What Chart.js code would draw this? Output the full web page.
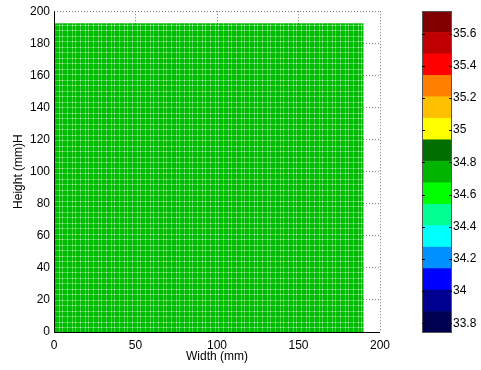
<!DOCTYPE html>
<html>
<head>
<meta charset="utf-8">
<script src="https://cdn.jsdelivr.net/npm/chart.js@4/dist/chart.umd.min.js"></script>
<style>
  html, body { margin: 0; padding: 0; background: #fff; }
  #wrap { position: relative; width: 481px; height: 370px; }
  canvas { position: absolute; left: 0; top: 0; }
</style>
</head>
<body>
<div id="wrap">
  <canvas id="main" width="481" height="370"></canvas>
  <canvas id="cbar" width="481" height="370"></canvas>
</div>
<script>
// ---- data ----
const xTicks = [0, 50, 100, 150, 200];
const yTicks = [0, 20, 40, 60, 80, 100, 120, 140, 160, 180, 200];
const fieldWidth = 190;      // mm, extent of the filled field
const fieldHeight = 192.5;   // mm
const fieldX = [0, fieldWidth];
const fieldY = [fieldHeight, fieldHeight];

const levelEdges = [33.74, 33.873, 34.007, 34.14, 34.273, 34.407, 34.54, 34.673, 34.807, 34.94, 35.073, 35.207, 35.34, 35.473, 35.607, 35.74];
const levelColors = ['#000050', '#000090', '#0000FF', '#0090FF', '#00FFFF', '#00FF90', '#00FF00', '#00B400', '#006E00', '#FFFF00', '#FFC000', '#FF8000', '#FF0000', '#C00000', '#800000'];
const cbarTicks = [33.8, 34.0, 34.2, 34.4, 34.6, 34.8, 35.0, 35.2, 35.4, 35.6];

const FONT = { family: "'Liberation Sans', Arial, sans-serif", size: 12 };

// mesh-like fill pattern
function meshPattern() {
  const w = 13, h = 11;
  const c = document.createElement('canvas');
  c.width = w; c.height = h;
  const g = c.getContext('2d');
  g.fillStyle = 'rgb(0,188,0)';
  g.fillRect(0, 0, w, h);
  const vx = [2, 7, 10], hy = [3, 8];
  g.fillStyle = 'rgb(70,208,70)';
  vx.forEach(x => g.fillRect(x, 0, 1, h));
  hy.forEach(y => g.fillRect(0, y, w, 1));
  g.fillStyle = 'rgb(200,240,200)';
  vx.forEach(x => hy.forEach(y => g.fillRect(x, y, 1, 1)));
  return g.createPattern(c, 'repeat');
}

const gridStyle = { color: '#7a7a7a', lineWidth: 1, drawTicks: false };

new Chart(document.getElementById('main'), {
  type: 'line',
  data: {
    datasets: [{
      data: fieldX.map((x, i) => ({ x: x, y: fieldY[i] })),
      fill: 'origin',
      backgroundColor: meshPattern(),
      borderWidth: 0,
      borderColor: 'rgba(0,0,0,0)',
      pointRadius: 0
    }]
  },
  options: {
    responsive: false,
    animation: false,
    layout: { padding: { top: 11, right: 101, left: 0, bottom: 0 } },
    plugins: { legend: { display: false }, tooltip: { enabled: false } },
    scales: {
      x: {
        type: 'linear', min: 0, max: 200,
        afterBuildTicks: s => { s.ticks = xTicks.map(v => ({ value: v })); },
        afterFit: s => { s.height = 38; },
        ticks: { font: FONT, color: '#000', padding: 6, maxRotation: 0 },
        grid: Object.assign({}, gridStyle),
        border: { display: false, dash: [1, 2] },
        title: { display: true, text: 'Width (mm)', font: FONT, color: '#000', padding: { top: 0, bottom: 6 } }
      },
      y: {
        type: 'linear', min: 0, max: 200,
        afterBuildTicks: s => { s.ticks = yTicks.map(v => ({ value: v })); },
        afterFit: s => { s.width = 54; },
        ticks: { font: FONT, color: '#000', padding: 4 },
        grid: Object.assign({}, gridStyle),
        border: { display: false, dash: [1, 2] },
        title: { display: true, text: 'Height (mm)H', font: FONT, color: '#000', padding: { top: 11, bottom: 0 } }
      }
    }
  },
  plugins: [{
    id: 'axesLines',
    afterDatasetsDraw(chart) {
      const { ctx, chartArea: a } = chart;
      ctx.save();
      ctx.strokeStyle = '#000';
      ctx.lineWidth = 1;
      ctx.beginPath();
      ctx.moveTo(a.left + 0.5, a.top);
      ctx.lineTo(a.left + 0.5, a.bottom + 0.5);
      ctx.lineTo(a.right, a.bottom + 0.5);
      ctx.stroke();
      ctx.restore();
    }
  }]
});

new Chart(document.getElementById('cbar'), {
  type: 'bar',
  data: {
    labels: [''],
    datasets: levelColors.map((col, i) => ({
      data: [[levelEdges[i], levelEdges[i + 1]]],
      backgroundColor: col,
      borderWidth: 0,
      grouped: false,
      barPercentage: 1,
      categoryPercentage: 1
    }))
  },
  options: {
    responsive: false,
    animation: false,
    layout: { padding: { top: 11, right: 0, left: 422, bottom: 37 } },
    plugins: { legend: { display: false }, tooltip: { enabled: false } },
    scales: {
      x: { display: false },
      y: {
        position: 'right', min: levelEdges[0], max: levelEdges[levelEdges.length - 1],
        afterBuildTicks: s => { s.ticks = cbarTicks.map(v => ({ value: v })); },
        afterFit: s => { s.width = 29; },
        ticks: { font: FONT, color: '#000', padding: 1, callback: v => String(parseFloat(Number(v).toFixed(1))) },
        grid: { drawOnChartArea: false, drawTicks: false },
        border: { display: false }
      }
    }
  },
  plugins: [{
    id: 'cbarFrame',
    afterDatasetsDraw(chart) {
      const { ctx, chartArea: a } = chart;
      const ys = chart.scales.y;
      ctx.save();
      ctx.strokeStyle = '#555';
      ctx.lineWidth = 1;
      ctx.strokeRect(a.left + 0.5, a.top + 0.5, a.right - a.left - 1, a.bottom - a.top - 1);
      ctx.strokeStyle = '#000';
      ctx.beginPath();
      cbarTicks.forEach(v => {
        const y = Math.round(ys.getPixelForValue(v)) + 0.5;
        ctx.moveTo(a.left, y); ctx.lineTo(a.left + 3, y);
        ctx.moveTo(a.right - 3, y); ctx.lineTo(a.right, y);
      });
      ctx.stroke();
      ctx.restore();
    }
  }]
});
</script>
</body>
</html>
